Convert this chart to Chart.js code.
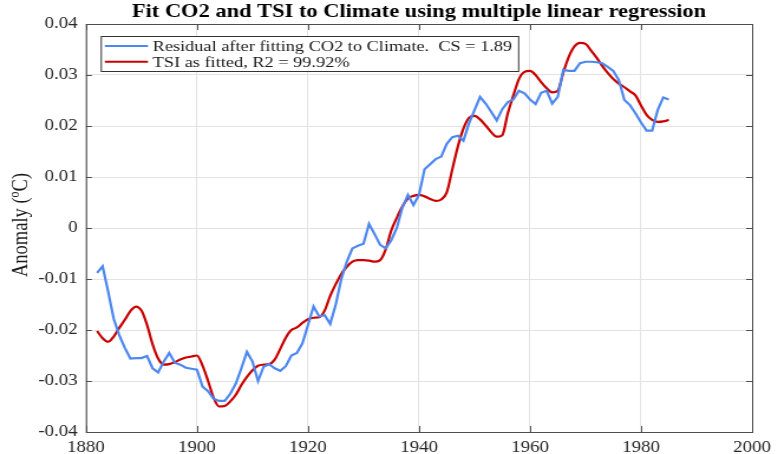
<!DOCTYPE html>
<html>
<head>
<meta charset="utf-8">
<script src="https://cdn.jsdelivr.net/npm/chart.js@4.4.0/dist/chart.umd.min.js"></script>
<style>
  html, body { margin: 0; padding: 0; background: #fff; overflow: hidden; }
  /* the original figure is stretched sideways, so draw narrow and widen */
  #wrap { width: 659px; height: 454px; transform: scaleX(1.1806); transform-origin: 0 0; }
</style>
</head>
<body>
<div id="wrap"><canvas id="climateChart" width="659" height="454"></canvas></div>
<script>
const chartTitle = 'Fit CO2 and TSI to Climate using multiple linear regression'
const seriesLabels = ['Residual after fitting CO2 to Climate.  CS = 1.89', 'TSI as fitted, R2 = 99.92%']

const years = [
    1882, 1883, 1884, 1885, 1886, 1887, 1888, 1889, 1890, 1891,
    1892, 1893, 1894, 1895, 1896, 1897, 1898, 1899, 1900, 1901,
    1902, 1903, 1904, 1905, 1906, 1907, 1908, 1909, 1910, 1911,
    1912, 1913, 1914, 1915, 1916, 1917, 1918, 1919, 1920, 1921,
    1922, 1923, 1924, 1925, 1926, 1927, 1928, 1929, 1930, 1931,
    1932, 1933, 1934, 1935, 1936, 1937, 1938, 1939, 1940, 1941,
    1942, 1943, 1944, 1945, 1946, 1947, 1948, 1949, 1950, 1951,
    1952, 1953, 1954, 1955, 1956, 1957, 1958, 1959, 1960, 1961,
    1962, 1963, 1964, 1965, 1966, 1967, 1968, 1969, 1970, 1971,
    1972, 1973, 1974, 1975, 1976, 1977, 1978, 1979, 1980, 1981,
    1982, 1983, 1984, 1985
]

// blue: residual after fitting CO2
const residual = [
    -0.0088, -0.0075, -0.0125, -0.0178, -0.0210, -0.0235, -0.0256, -0.0255, -0.0255, -0.0251,
    -0.0275, -0.0283, -0.0262, -0.0245, -0.0264, -0.0268, -0.0274, -0.0276, -0.0278, -0.0311,
    -0.0320, -0.0335, -0.0339, -0.0339, -0.0325, -0.0305, -0.0275, -0.0243, -0.0262, -0.0300,
    -0.0272, -0.0267, -0.0275, -0.0280, -0.0271, -0.0250, -0.0245, -0.0226, -0.0190, -0.0154,
    -0.0173, -0.0171, -0.0188, -0.0150, -0.0100, -0.0066, -0.0040, -0.0035, -0.0031, 0.0008,
    -0.0012, -0.0033, -0.0040, -0.0024, 0.0000, 0.0040, 0.0065, 0.0045, 0.0065, 0.0115,
    0.0125, 0.0135, 0.0140, 0.0165, 0.0178, 0.0181, 0.0171, 0.0205, 0.0231, 0.0257,
    0.0244, 0.0228, 0.0211, 0.0233, 0.0247, 0.0252, 0.0269, 0.0264, 0.0252, 0.0243,
    0.0265, 0.0269, 0.0244, 0.0257, 0.0310, 0.0308, 0.0308, 0.0323, 0.0326, 0.0326,
    0.0325, 0.0323, 0.0316, 0.0308, 0.0290, 0.0251, 0.0241, 0.0225, 0.0207, 0.0191,
    0.0191, 0.0231, 0.0256, 0.0252
]

// red: TSI as fitted
const tsiFitted = [
    -0.0202, -0.0216, -0.0223, -0.0213, -0.0196, -0.0180, -0.0163, -0.0154, -0.0162, -0.0190,
    -0.0228, -0.0256, -0.0268, -0.0267, -0.0263, -0.0258, -0.0254, -0.0252, -0.0250, -0.0270,
    -0.0300, -0.0333, -0.0350, -0.0349, -0.0340, -0.0327, -0.0308, -0.0292, -0.0279, -0.0270,
    -0.0268, -0.0267, -0.0258, -0.0237, -0.0215, -0.0200, -0.0195, -0.0186, -0.0179, -0.0176,
    -0.0175, -0.0162, -0.0133, -0.0110, -0.0090, -0.0076, -0.0066, -0.0063, -0.0063, -0.0064,
    -0.0066, -0.0063, -0.0042, -0.0005, 0.0020, 0.0042, 0.0058, 0.0063, 0.0065, 0.0062,
    0.0057, 0.0053, 0.0056, 0.0070, 0.0115, 0.0160, 0.0195, 0.0216, 0.0220, 0.0213,
    0.0201, 0.0188, 0.0179, 0.0182, 0.0225, 0.0260, 0.0292, 0.0306, 0.0308, 0.0300,
    0.0286, 0.0274, 0.0266, 0.0269, 0.0305, 0.0336, 0.0356, 0.0363, 0.0361, 0.0348,
    0.0334, 0.0318, 0.0304, 0.0292, 0.0283, 0.0276, 0.0268, 0.0260, 0.0240, 0.0222,
    0.0212, 0.0208, 0.0209, 0.0212
]

const xTicks = [1880, 1900, 1920, 1940, 1960, 1980, 2000]
const yTicks = [-0.04, -0.03, -0.02, -0.01, 0, 0.01, 0.02, 0.03, 0.04]

const blue = 'rgb(77, 136, 240)'
const red = 'rgb(200, 0, 0)'
const axisColor = '#4d4d4d'
const serif = '"Liberation Serif", "Times New Roman", serif'

const toPoints = (values) => values.map((value, index) => ({ x: years[index], y: value }))

// title centred over the plot area, not the whole canvas
const plotTitlePlugin = {
    id: 'plotTitle',
    afterDraw(chart) {
        const { ctx, chartArea: a } = chart
        ctx.save()
        ctx.font = 'bold 19px ' + serif
        ctx.fillStyle = '#000'
        ctx.textAlign = 'center'
        ctx.textBaseline = 'middle'
        ctx.fillText(chartTitle, (a.left + a.right) / 2, 12.5)
        ctx.restore()
    }
}

// frame round the plot area with small inward ticks on all four sides
const framePlugin = {
    id: 'frame',
    afterDatasetsDraw(chart) {
        const { ctx, chartArea: a, scales } = chart
        ctx.save()
        ctx.strokeStyle = axisColor
        ctx.lineWidth = 1
        ctx.strokeRect(a.left + 0.5, a.top + 0.5, a.right - a.left, a.bottom - a.top)
        ctx.beginPath()
        xTicks.forEach((t) => {
            const px = Math.round(scales.x.getPixelForValue(t)) + 0.5
            ctx.moveTo(px, a.bottom); ctx.lineTo(px, a.bottom - 6)
            ctx.moveTo(px, a.top); ctx.lineTo(px, a.top + 6)
        })
        yTicks.forEach((t) => {
            const py = Math.round(scales.y.getPixelForValue(t)) + 0.5
            ctx.moveTo(a.left, py); ctx.lineTo(a.left + 5, py)
            ctx.moveTo(a.right, py); ctx.lineTo(a.right - 5, py)
        })
        ctx.stroke()
        ctx.restore()
    }
}

// boxed legend in the upper left corner of the plot
const boxLegendPlugin = {
    id: 'boxLegend',
    afterDraw(chart) {
        const { ctx, chartArea: a } = chart
        const left = a.left + 12.5, top = a.top + 12
        const rowH = 15.7
        ctx.save()
        ctx.font = '15.5px ' + serif
        const textW = Math.max(...chart.data.datasets.map(d => ctx.measureText(d.label).width))
        const w = 44 + textW + 5, h = 35
        ctx.fillStyle = '#fff'
        ctx.fillRect(left, top, w, h)
        ctx.strokeStyle = '#333'
        ctx.lineWidth = 1
        ctx.strokeRect(left + 0.5, top + 0.5, w, h)
        chart.data.datasets.forEach((d, i) => {
            const y = top + 10 + i * rowH
            ctx.strokeStyle = d.borderColor
            ctx.lineWidth = 2
            ctx.beginPath()
            ctx.moveTo(left + 3.5, y); ctx.lineTo(left + 40, y)
            ctx.stroke()
            ctx.fillStyle = '#1a1a1a'
            ctx.textBaseline = 'middle'
            ctx.fillText(d.label, left + 44, y + 1)
        })
        ctx.restore()
    }
}

// y axis title with a raised "o" for degrees
const yTitlePlugin = {
    id: 'yTitle',
    afterDraw(chart) {
        const { ctx, chartArea: a } = chart
        const parts = ['Anomaly (', 'o', 'C)']
        ctx.save()
        ctx.translate(18.5, (a.top + a.bottom) / 2 - 3)
        ctx.rotate(-Math.PI / 2)
        ctx.fillStyle = '#1a1a1a'
        ctx.textBaseline = 'middle'
        ctx.font = '18.5px ' + serif
        const w0 = ctx.measureText(parts[0]).width
        const w2 = ctx.measureText(parts[2]).width
        ctx.font = '12px ' + serif
        const w1 = ctx.measureText(parts[1]).width
        let x = -(w0 + w1 + w2) / 2
        ctx.font = '18.5px ' + serif
        ctx.fillText(parts[0], x, 0)
        x += w0
        ctx.font = '12px ' + serif
        ctx.fillText(parts[1], x, -6)
        x += w1
        ctx.font = '18.5px ' + serif
        ctx.fillText(parts[2], x, 0)
        ctx.restore()
    }
}

const ctx = document.getElementById('climateChart').getContext('2d')
const chart = new Chart(ctx, {
    type: 'line',
    data: {
        datasets: [{
                label: seriesLabels[0],
                data: toPoints(residual),
                borderColor: blue,
                borderWidth: 2.2,
                fill: false,
                pointRadius: 0,
                tension: 0
            },
            {
                label: seriesLabels[1],
                data: toPoints(tsiFitted),
                borderColor: red,
                borderWidth: 2.2,
                fill: false,
                pointRadius: 0,
                cubicInterpolationMode: 'monotone'
            }
        ]
    },
    options: {
        responsive: false,
        animation: false,
        devicePixelRatio: 1,
        layout: { padding: { top: 24, right: 18.7, bottom: 0, left: 0 } },
        plugins: {
            legend: { display: false },
            tooltip: { enabled: false },
            title: { display: false }
        },
        scales: {
            x: {
                type: 'linear',
                min: 1880,
                max: 2000,
                afterBuildTicks: (scale) => { scale.ticks = xTicks.map(v => ({ value: v })) },
                afterFit: (scale) => { scale.height = 22 },
                ticks: {
                    color: '#262626',
                    font: { family: serif, size: 16 },
                    padding: 6,
                    maxRotation: 0,
                    callback: (v) => String(v)
                },
                grid: { color: '#e3e3e3', drawTicks: false },
                border: { display: false }
            },
            y: {
                min: -0.04,
                max: 0.04,
                afterBuildTicks: (scale) => { scale.ticks = yTicks.map(v => ({ value: v })) },
                afterFit: (scale) => { scale.width = 72.8 },
                ticks: {
                    color: '#262626',
                    font: { family: serif, size: 16 },
                    padding: 7,
                    callback: (v) => String(+v.toFixed(2))
                },
                grid: { color: '#e3e3e3', drawTicks: false },
                border: { display: false }
            }
        }
    },
    plugins: [framePlugin, boxLegendPlugin, yTitlePlugin, plotTitlePlugin]
})
</script>
</body>
</html>
